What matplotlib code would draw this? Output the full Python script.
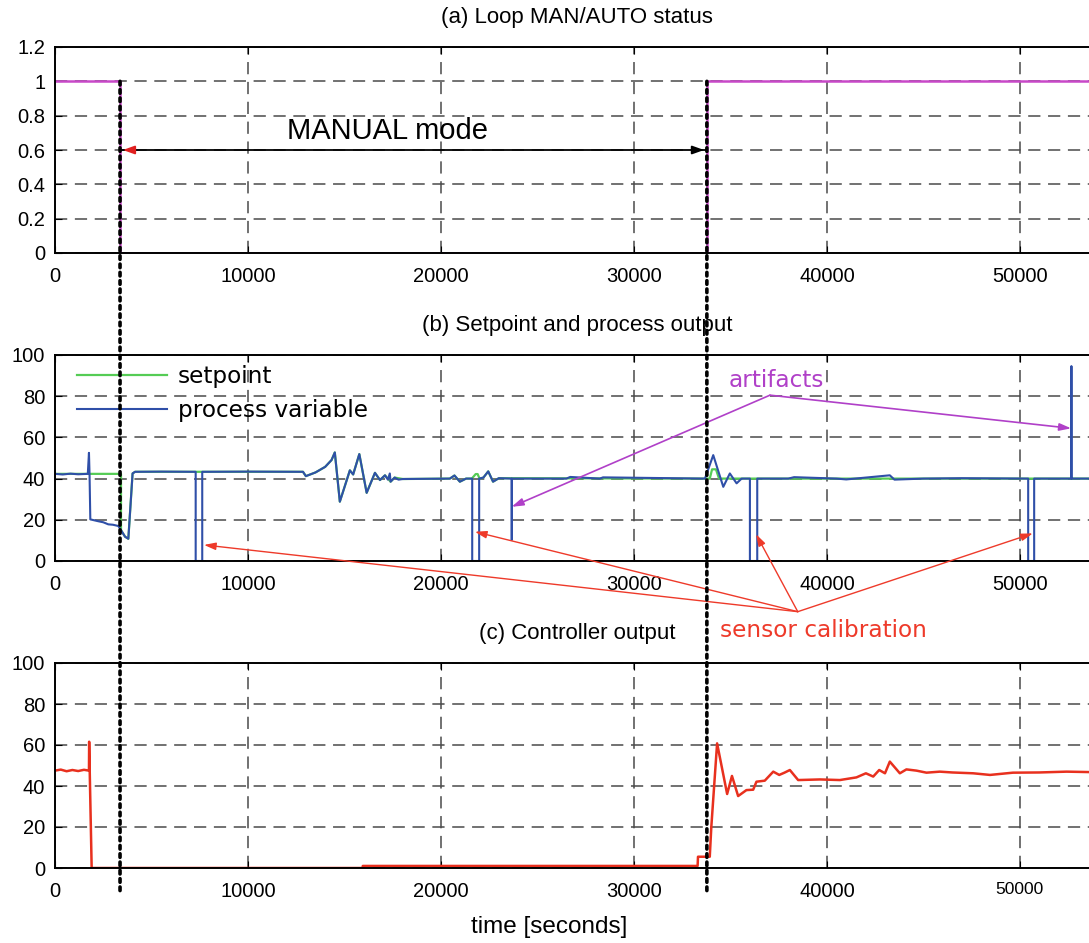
import matplotlib
matplotlib.use("Agg")
import matplotlib.pyplot as plt
from matplotlib.patches import ConnectionPatch

# ---------------- data ----------------
# (a) loop MAN/AUTO status
status_t = [0, 3370, 3370, 33780, 33780, 54100]
status_v = [1, 1, 0, 0, 1, 1]

# (b) setpoint
sp_t = [0, 1700, 3420, 3420, 3630, 3800, 4020, 4150, 7290, 7630, 12850, 13000, 13500, 14000,
        14330, 14500, 14760, 15280, 15450, 15770, 16150, 16580, 16840, 17100, 17390, 17600,
        18030, 20460, 20700, 20980, 21300, 21600, 21800, 21900, 22000, 22200, 22450, 22700,
        23000, 33930, 34050, 34250, 34410, 54100]
sp_v = [42.3, 42.3, 42.3, 15.0, 11.8, 10.8, 42.5, 43.3, 43.3, 43.3, 43.3, 41.2, 43.0, 45.7,
        49.0, 52.7, 28.8, 44.0, 42.0, 51.9, 33.1, 42.8, 39.3, 41.6, 38.5, 40.5,
        39.8, 40.0, 41.5, 38.5, 40.0, 40.0, 42.2, 42.2, 40.0, 40.5, 43.5, 38.5,
        40.2, 40.0, 44.5, 44.5, 40.0, 40.0]

# (b) process variable
pv_t = [0, 400, 800, 1200, 1700, 1760, 1790, 1830, 2245, 2500, 2760, 3000, 3280, 3420, 3630,
        3800, 4020, 4150, 5500, 7290, 7290, 7630, 7630, 10000, 12850, 13000, 13500, 14000,
        14330, 14500, 14760, 15280, 15450, 15770, 16150, 16580, 16840, 17100, 17250, 17350,
        17390, 17600, 17800, 18030, 20460, 20700, 20980, 21300, 21620, 21620, 21980, 21980,
        22200, 22450, 22700, 23000, 23660, 23670, 23680, 26500, 26700, 28230, 28400,
        33680, 34110, 34630, 34970, 35320, 35580, 36010, 36010, 36390, 36390, 38000, 38300,
        40500, 41000, 43260, 43500, 45000, 47000, 50430, 50430, 50740, 50740,
        52660, 52670, 52680, 54100]
pv_v = [42.3, 42.0, 42.4, 42.1, 42.3, 52.5, 42.0, 20.2, 19.3, 18.8, 17.8, 17.6, 17.0, 15.0, 11.8,
        10.8, 42.5, 43.3, 43.4, 43.3, 0.0, 0.0, 43.3, 43.4, 43.3, 41.2, 43.0, 45.7,
        49.0, 52.7, 28.8, 44.0, 42.0, 51.9, 33.1, 42.8, 39.3, 41.6, 39.5, 42.5,
        38.5, 40.5, 39.5, 39.8, 40.0, 41.5, 38.5, 40.0, 40.0, 0.0, 0.0, 40.0,
        40.5, 43.5, 38.5, 40.2, 40.0, 10.2, 40.0, 40.0, 40.8, 40.0, 40.6,
        40.0, 51.4, 36.0, 42.5, 37.7, 40.0, 40.0, 0.0, 0.0, 40.0, 40.0, 40.7,
        40.0, 39.6, 41.6, 39.5, 40.0, 40.2, 40.0, 0.0, 0.0, 40.0,
        40.0, 94.6, 40.0, 40.0]

# (c) controller output
co_t = [0, 300, 600, 900, 1200, 1500, 1760, 1770, 1800, 1900, 15940, 15950, 33300, 33320,
        33930, 34010, 34310, 34830, 35080, 35400, 35830, 36180, 36350, 36780, 37220, 37530,
        37800, 38080, 38510, 39640, 40670, 41530, 42020, 42400, 42710, 43010, 43260, 43780,
        44120, 44640, 45160, 45850, 46500, 47580, 48450, 49640, 51000, 52420, 54100]
co_v = [47.5, 48.0, 47.2, 47.8, 47.3, 47.9, 47.5, 61.6, 47.0, 0.0, 0.0, 1.0, 1.0, 5.5,
        5.5, 20.0, 60.8, 36.1, 44.9, 35.1, 38.0, 38.2, 42.1, 42.6, 47.0, 45.4,
        46.5, 47.8, 42.9, 43.2, 42.9, 44.2, 46.2, 44.6, 47.8, 46.2, 51.9, 46.2,
        48.1, 47.5, 46.5, 47.0, 46.6, 46.2, 45.4, 46.5, 46.6, 47.0, 46.7]

x_ticks = [0, 10000, 20000, 30000, 40000, 50000]
man_start, man_end = 3370, 33780
artifact_pts = [(23660, 26.3), (52660, 64.4)]
calib_pts = [(7720, 7.8), (21760, 14.2), (36330, 13.0), (50670, 13.4)]

# ---------------- style ----------------
plt.rcParams['font.family'] = ['Liberation Sans', 'DejaVu Sans']
W, H = 1089, 943
fig = plt.figure(figsize=(W / 100, H / 100), dpi=100)

x0 = 55 / W
xw = (1099 - 55) / W
XMAX = 54100
GRID = '#4a4a4a'

def make_ax(top_px, bot_px):
    ax = fig.add_axes([x0, 1 - bot_px / H, xw, (bot_px - top_px) / H])
    ax.set_xlim(0, XMAX)
    ax.set_xticks(x_ticks)
    ax.grid(True, linestyle=(0, (8, 5)), color=GRID, lw=1.1)
    ax.tick_params(axis='x', direction='in', top=True, length=5, labelsize=14.5, pad=10)
    ax.tick_params(axis='y', direction='in', right=True, length=5, labelsize=14.5, pad=7)
    for s in ax.spines.values():
        s.set_linewidth(1.4)
    return ax

ax1 = make_ax(47, 253)
ax2 = make_ax(355, 561)
ax3 = make_ax(663, 868)

# (a)
ax1.plot(status_t, status_v, color='#c848c8', lw=1.8)
ax1.set_ylim(0, 1.2)
ax1.set_yticks([0, 0.2, 0.4, 0.6, 0.8, 1.0, 1.2])
ax1.set_yticklabels(['0', '0.2', '0.4', '0.6', '0.8', '1', '1.2'])
ax1.text(17250, 0.71, 'MANUAL mode', fontsize=21, ha='center', va='center')
ax1.plot([man_start, man_end], [0.6, 0.6], color='black', lw=1.3)
ax1.annotate('', xy=(man_start, 0.6), xytext=(man_start + 900, 0.6),
             arrowprops=dict(arrowstyle='-|>,head_length=0.7,head_width=0.25', color='#e02020', lw=1.3))
ax1.annotate('', xy=(man_end, 0.6), xytext=(man_end - 900, 0.6),
             arrowprops=dict(arrowstyle='-|>,head_length=0.7,head_width=0.25', color='black', lw=1.3))

# (b)
ax2.plot(sp_t, sp_v, color='#55cc55', lw=1.6, label='setpoint')
ax2.plot(pv_t, pv_v, color='#2f4fa8', lw=1.5, label='process variable')
ax2.set_ylim(0, 100)
ax2.set_yticks([0, 20, 40, 60, 80, 100])
leg = ax2.legend(loc='upper left', bbox_to_anchor=(0.021, 0.95), frameon=False,
                 prop={'family': 'DejaVu Sans', 'size': 16.7}, borderaxespad=0, borderpad=0,
                 handlelength=3.9, labelspacing=0.45, handletextpad=0.45)

apex_a = (37050, 80.5)
ax2.text(37360, 87.8, 'artifacts', color='#b040c8', fontsize=16.7, family='DejaVu Sans',
         ha='center', va='center')
for p in artifact_pts:
    ax2.annotate('', xy=p, xytext=apex_a,
                 arrowprops=dict(arrowstyle='-|>,head_length=0.7,head_width=0.22',
                                 color='#b040c8', lw=1.2, shrinkA=0, shrinkB=0))

apex_c = (38490, -24.6)
ax2.text(39800, -33.5, 'sensor calibration', color='#ee3a2a', fontsize=16.7, family='DejaVu Sans',
         ha='center', va='center', clip_on=False)
for p in calib_pts:
    ax2.annotate('', xy=p, xytext=apex_c, annotation_clip=False,
                 arrowprops=dict(arrowstyle='-|>,head_length=0.7,head_width=0.22',
                                 color='#ee3a2a', lw=1.0, shrinkA=0, shrinkB=0))

# (c)
ax3.plot(co_t, co_v, color='#e8301e', lw=1.8)
ax3.set_ylim(0, 100)
ax3.set_yticks([0, 20, 40, 60, 80, 100])
for lab in ax3.get_xticklabels():
    if lab.get_text() == '50000':
        lab.set_fontsize(12.5)

# titles
TFS = 16
fig.text(577 / W, 1 - 18 / H, '(a) Loop MAN/AUTO status', ha='center', va='center', fontsize=TFS)
fig.text(577 / W, 1 - 325 / H, '(b) Setpoint and process output', ha='center', va='center', fontsize=TFS)
fig.text(577 / W, 1 - 633 / H, '(c) Controller output', ha='center', va='center', fontsize=TFS)
fig.text(549 / W, 1 - 927 / H, 'time [seconds]', ha='center', va='center', fontsize=17.5)

# dotted vertical mode-switch lines across panels
for xs in (man_start, man_end):
    con = ConnectionPatch(xyA=(xs, 1.0), coordsA=ax1.transData,
                          xyB=(xs, -12.5), coordsB=ax3.transData,
                          color='black', lw=2.6, linestyle=(0, (1, 1.3)), zorder=10)
    fig.add_artist(con)

fig.savefig('out.png', dpi=100)
